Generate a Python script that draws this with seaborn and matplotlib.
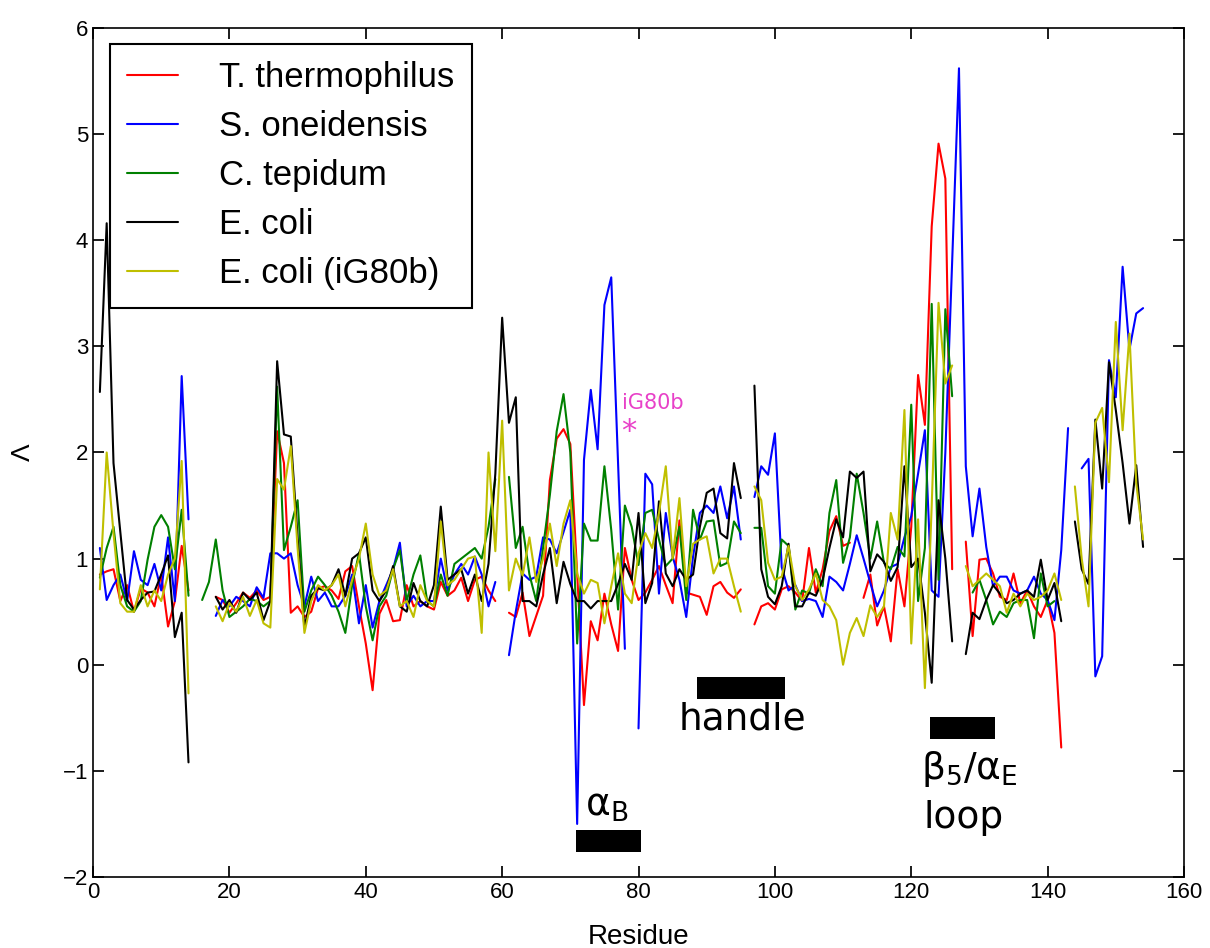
import numpy as np
import pandas as pd
import matplotlib
matplotlib.use('Agg')
import matplotlib.pyplot as plt
import seaborn as sns
from matplotlib.lines import Line2D
from matplotlib.patches import Rectangle

nan = np.nan
residue = np.arange(1, 155)

t_thermophilus = [
    0.85, 0.88, 0.9, 0.6, 0.75, 0.5, 0.72, 0.68, 0.55, 0.85,
    0.36, 0.6, 1.12, 0.7, nan, nan, nan, 0.64, 0.61, 0.49,
    0.58, 0.68, 0.63, 0.7, 0.61, 0.64, 2.2, 1.9, 0.49, 0.55,
    0.45, 0.5, 0.72, 0.74, 0.7, 0.62, 0.88, 0.93, 0.55, 0.2,
    -0.24, 0.48, 0.61, 0.41, 0.42, 0.75, 0.55, 0.6, 0.55, 0.52,
    0.78, 0.65, 0.7, 0.82, 0.6, 0.8, 0.83, 0.7, 0.6, nan,
    0.49, 0.45, 0.68, 0.27, 0.46, 0.65, 1.74, 2.13, 2.22, 2.08,
    0.86, -0.38, 0.41, 0.23, 0.67, 0.38, 0.13, 1.1, 0.8, 0.61,
    0.68, 0.8, 0.93, 0.75, 0.58, 1.36, 0.68, 0.66, 0.64, 0.47,
    0.74, 0.78, 0.68, 0.63, 0.71, nan, 0.38, 0.55, 0.58, 0.52,
    0.71, 0.74, 0.68, 0.6, 1.1, 0.68, 0.9, 1.26, 1.4, 1.12,
    1.15, nan, 0.63, 0.85, 0.37, 0.55, 0.22, 0.9, 0.55, 1.3,
    2.73, 2.26, 4.13, 4.91, 4.58, 0.9, nan, 1.16, 0.27, 0.99,
    1.0, 0.86, 0.64, 0.61, 0.86, 0.58, 0.7, 0.55, 0.45, 0.61,
    0.3, -0.78, nan, nan, nan, nan, nan, nan, nan, nan,
    nan, nan, nan, nan,
]

s_oneidensis = [
    1.1, 0.61, 0.75, 0.85, 0.6, 1.07, 0.8, 0.75, 0.95, 0.7,
    1.2, 0.6, 2.72, 1.37, nan, nan, nan, 0.46, 0.61, 0.55,
    0.64, 0.6, 0.55, 0.73, 0.63, 1.05, 1.05, 1.0, 1.05, 0.75,
    0.55, 0.83, 0.6, 0.68, 0.55, 0.55, 0.65, 0.85, 0.39, 0.75,
    0.35, 0.6, 0.75, 0.9, 1.15, 0.55, 0.65, 0.55, 0.6, 0.6,
    1.0, 0.7, 0.85, 0.95, 0.85, 1.02, 0.85, 0.55, 0.78, nan,
    0.09, 0.5, 0.86, 0.8, 0.83, 1.2, 1.18, 1.05, 1.25, 1.46,
    -1.5, 1.93, 2.59, 2.03, 3.39, 3.65, 1.9, 0.15, nan, -0.6,
    1.8, 1.7, 0.67, 1.43, 1.02, 0.8, 0.45, 1.02, 1.43, 1.5,
    1.43, 1.68, 1.38, 1.68, 1.18, nan, 1.58, 1.87, 1.79, 2.18,
    0.92, 0.7, 0.75, 0.6, 0.62, 0.6, 0.45, 0.83, 0.78, 0.7,
    0.95, 1.22, 1.0, 0.77, 0.55, 0.7, 0.92, 0.95, 1.2, 1.4,
    1.8, 2.21, 0.7, 0.64, 2.0, 3.8, 5.62, 1.87, 1.21, 1.66,
    1.11, 0.74, 0.83, 0.83, 0.7, 0.67, 0.7, 0.83, 0.67, 0.61,
    0.42, 1.08, 2.23, nan, 1.85, 1.94, -0.11, 0.08, 2.87, 2.52,
    3.75, 2.97, 3.31, 3.36,
]

c_tepidum = [
    0.82, 1.1, 1.3, 0.75, 0.55, 0.5, 0.6, 0.99, 1.3, 1.41,
    1.3, 0.9, 1.46, 0.65, nan, 0.61, 0.78, 1.18, 0.7, 0.45,
    0.5, 0.55, 0.62, 0.6, 0.55, 0.6, 2.62, 1.08, 1.3, 1.55,
    0.5, 0.7, 0.83, 0.75, 0.65, 0.5, 0.3, 0.75, 1.05, 0.55,
    0.23, 0.55, 0.65, 0.9, 1.08, 0.6, 0.85, 1.03, 0.6, 0.55,
    0.85, 0.65, 0.95, 1.0, 1.05, 1.1, 1.0, 1.3, 1.75, nan,
    1.77, 1.1, 1.3, 0.85, 0.6, 1.1, 1.6, 2.2, 2.55, 2.0,
    0.2, 1.33, 1.17, 1.17, 1.87, 1.27, 0.52, 1.5, 1.3, 0.94,
    1.43, 1.46, 1.18, 0.93, 1.0, 1.3, 0.61, 1.46, 1.18, 1.35,
    1.36, 0.93, 0.96, 1.35, 1.24, nan, 1.29, 1.29, 0.74, 0.67,
    1.18, 1.12, 0.52, 0.7, 0.67, 0.9, 0.74, 1.43, 1.74, 0.96,
    1.2, 1.8, 1.43, 1.0, 1.35, 0.96, 0.9, 1.11, 1.02, 2.45,
    0.6, 1.1, 3.4, 0.8, 3.35, 2.53, nan, nan, 0.68, 0.8,
    0.61, 0.38, 0.5, 0.45, 0.58, 0.61, 0.61, 0.25, 0.86, 0.55,
    0.6, nan, nan, nan, nan, nan, nan, nan, nan, nan,
    nan, nan, nan, nan,
]

e_coli = [
    2.57, 4.16, 1.9, 1.25, 0.61, 0.52, 0.61, 0.68, 0.69, 0.85,
    1.03, 0.26, 0.49, -0.92, nan, nan, nan, 0.64, 0.52, 0.61,
    0.49, 0.68, 0.61, 0.68, 0.42, 0.6, 2.86, 2.17, 2.15, 1.2,
    0.35, 0.65, 0.72, 0.7, 0.75, 0.9, 0.65, 1.0, 1.05, 1.2,
    0.7, 0.6, 0.7, 0.93, 0.55, 0.5, 0.77, 0.6, 0.55, 0.75,
    1.49, 0.8, 0.85, 0.9, 0.67, 0.85, 0.6, 0.95, 1.8, 3.27,
    2.28, 2.52, 0.6, 0.6, 0.55, 0.85, 1.1, 0.58, 0.97, 0.76,
    0.6, 0.6, 0.53, 0.6, 0.6, 0.6, 0.76, 0.95, 0.8, 1.43,
    0.58, 0.77, 1.54, 0.86, 0.74, 0.9, 0.8, 0.85, 1.3, 1.62,
    1.66, 1.24, 1.19, 1.9, 1.57, nan, 2.63, 0.9, 0.64, 0.57,
    0.74, 1.14, 0.55, 0.55, 0.68, 0.65, 0.8, 1.1, 1.37, 1.2,
    1.82, 1.76, 1.82, 0.88, 1.04, 0.97, 0.79, 0.92, 1.87, 0.92,
    1.0, 0.49, -0.17, 1.55, 1.0, 0.22, nan, 0.1, 0.49, 0.43,
    0.61, 0.75, 0.67, 0.58, 0.61, 0.67, 0.7, 0.64, 0.99, 0.61,
    0.77, 0.41, nan, 1.35, 0.9, 0.76, 2.31, 1.66, 2.85, 2.4,
    1.9, 1.33, 1.88, 1.11,
]

e_coli_ig80b = [
    0.71, 2.0, 1.24, 0.58, 0.5, 0.5, 0.75, 0.55, 0.7, 0.6,
    0.85, 1.0, 1.92, -0.27, nan, nan, nan, 0.55, 0.41, 0.58,
    0.5, 0.64, 0.46, 0.61, 0.39, 0.35, 1.75, 1.65, 2.06, 1.1,
    0.3, 0.6, 0.75, 0.7, 0.75, 0.85, 0.55, 0.8, 1.0, 1.33,
    0.85, 0.65, 0.7, 0.9, 0.55, 0.6, 0.45, 0.75, 0.6, 0.55,
    1.35, 0.75, 0.8, 0.9, 1.0, 1.02, 0.3, 2.0, 1.07, 2.3,
    0.7, 1.0, 0.84, 1.2, 0.78, 1.0, 1.33, 0.93, 1.33, 1.55,
    0.86, 0.67, 0.8, 0.77, 0.39, 0.74, 1.05, 0.67, 0.58, 1.05,
    1.24, 1.1, 1.43, 1.87, 1.0, 1.57, 0.74, 1.14, 1.18, 1.21,
    0.86, 1.0, 1.0, 0.74, 0.5, nan, 1.68, 1.55, 0.96, 0.8,
    0.83, 1.12, 0.74, 0.61, 0.71, 0.86, 0.61, 0.55, 0.42, 0.0,
    0.3, 0.44, 0.27, 0.56, 0.45, 0.55, 1.43, 1.18, 2.4, 0.2,
    1.37, -0.22, 1.5, 3.41, 2.65, 2.82, nan, 0.93, 0.74, 0.8,
    0.86, 0.8, 0.74, 0.49, 0.67, 0.55, 0.67, 0.61, 0.64, 0.7,
    0.86, 0.61, nan, 1.68, 1.0, 0.55, 2.28, 2.42, 1.72, 3.23,
    2.21, 3.12, 1.71, 1.18,
]

species = ['T. thermophilus', 'S. oneidensis', 'C. tepidum', 'E. coli', 'E. coli (iG80b)']
colors = ['#ff0000', '#0000ff', '#008000', '#000000', '#bfbf00']

# residue ranges of the marked structural elements
alpha_b = (70.8, 80.4)
handle = (88.6, 101.5)
beta5_alphae = (122.7, 132.3)

# split each series at the NaN gaps so the lines break there
rows = []
for name, vals in zip(species, [t_thermophilus, s_oneidensis, c_tepidum, e_coli, e_coli_ig80b]):
    seg = 0
    gap = True
    for r, v in zip(residue, vals):
        if np.isnan(v):
            gap = True
            continue
        if gap:
            seg += 1
        gap = False
        rows.append((r, v, name, f'{name}-{seg}'))
df = pd.DataFrame(rows, columns=['Residue', 'Lambda', 'species', 'segment'])

sns.set_theme(style='ticks', rc={
    'xtick.direction': 'in', 'ytick.direction': 'in',
    'xtick.top': True, 'ytick.right': True,
    'xtick.major.size': 8, 'ytick.major.size': 8,
    'xtick.color': 'black', 'ytick.color': 'black',
    'text.color': 'black', 'axes.labelcolor': 'black',
    'axes.edgecolor': 'black', 'axes.linewidth': 1.2,
    'mathtext.default': 'regular',
})
plt.rcParams['font.family'] = ['Liberation Sans', 'DejaVu Sans']

fig = plt.figure(figsize=(12.1, 9.48), dpi=100)
ax = fig.add_axes([0.0769, 0.0749, 0.9016, 0.8956])

sns.lineplot(data=df, x='Residue', y='Lambda', hue='species', hue_order=species,
             palette=colors, units='segment', estimator=None, legend=False,
             linewidth=1.5, ax=ax)

ax.set_xlim(0, 160)
ax.set_ylim(-2, 6)
ax.set_xticks(range(0, 161, 20))
ax.set_yticks(range(-2, 7))
ax.tick_params(labelsize=16)
ax.set_xlabel('Residue', fontsize=20, labelpad=15)
ax.set_ylabel(r'$\Lambda$', fontsize=19, labelpad=20)

# structural element bars
for (x0, x1), yc in [(alpha_b, -1.657), (handle, -0.216), (beta5_alphae, -0.595)]:
    ax.add_patch(Rectangle((x0, yc - 0.104), x1 - x0, 0.208, color='black', lw=0))

ax.text(75.4, -1.33, r'$\alpha_B$', fontsize=27, ha='center', va='center',
        family='DejaVu Sans')
ax.text(95.3, -0.52, 'handle', fontsize=27, ha='center', va='center',
        family='DejaVu Sans')
ax.text(121.5, -0.98, r'$\beta_5/\alpha_E$', fontsize=27, ha='left', va='center',
        family='DejaVu Sans')
ax.text(121.8, -1.44, 'loop', fontsize=27, ha='left', va='center',
        family='DejaVu Sans')

ax.text(77.6, 2.47, 'iG80b', fontsize=15, color='#e841c8', ha='left', va='center',
        family='DejaVu Sans')
ax.text(78.6, 2.2, '*', fontsize=22, color='#e841c8', ha='center', va='center',
        family='DejaVu Sans')

handles = [Line2D([0], [0], color=c, lw=1.5) for c in colors]
leg = ax.legend(handles, species, loc='upper left', bbox_to_anchor=(0.0156, 0.981),
                borderaxespad=0, fontsize=25, frameon=True, fancybox=False,
                edgecolor='black', handlelength=1.45, handletextpad=1.2,
                labelspacing=0.46, borderpad=0.5)
leg.get_frame().set_linewidth(1.5)
leg.get_frame().set_alpha(1)

fig.savefig('out.png', dpi=100)
